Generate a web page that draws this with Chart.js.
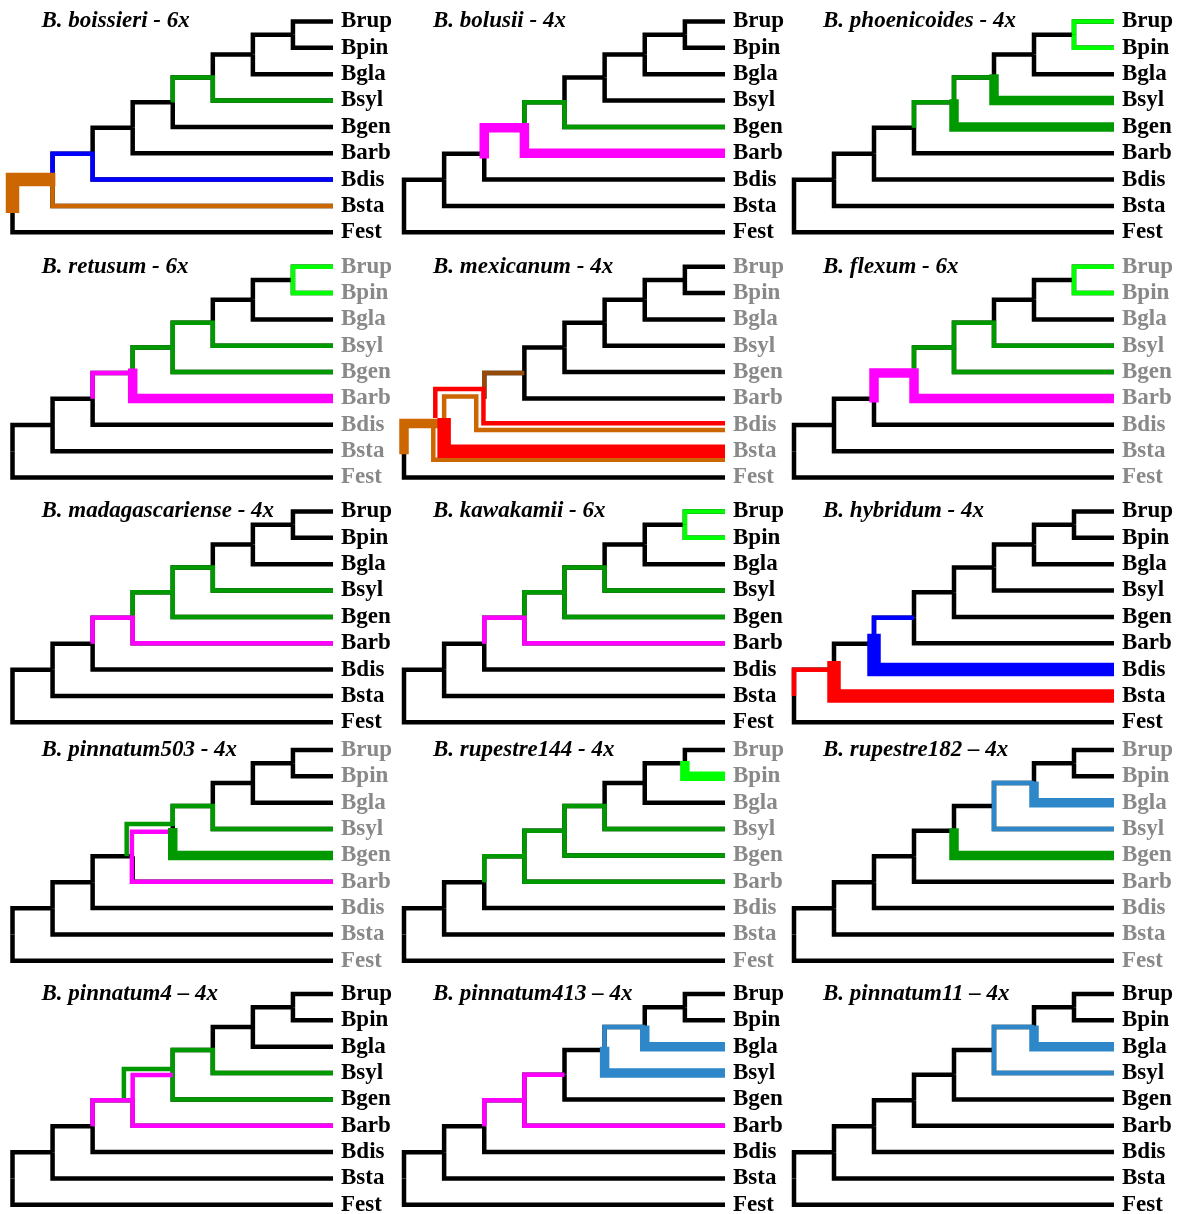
<!DOCTYPE html>
<html>
<head>
<meta charset="utf-8">
<script src="https://cdn.jsdelivr.net/npm/chart.js@4.4.1/dist/chart.umd.min.js"></script>
<style>
  html, body { margin: 0; padding: 0; background: #ffffff; }
  #sheet { position: relative; width: 1183px; height: 1214px; overflow: hidden; background: #ffffff; }
  #sheet canvas { position: absolute; }
</style>
</head>
<body>
<div id="sheet"></div>
<script>
// ---- reference topology: ladder tree of the diploid lineages ----
const tips = ['Brup', 'Bpin', 'Bgla', 'Bsyl', 'Bgen', 'Barb', 'Bdis', 'Bsta', 'Fest'];
const treeEdges = [
  ['n0', 'n1'], ['n0', 'Fest'],
  ['n1', 'n2'], ['n1', 'Bsta'],
  ['n2', 'n3'], ['n2', 'Bdis'],
  ['n3', 'n4'], ['n3', 'Barb'],
  ['n4', 'n5'], ['n4', 'Bgen'],
  ['n5', 'n6'], ['n5', 'Bsyl'],
  ['n6', 'n7'], ['n6', 'Bgla'],
  ['n7', 'Brup'], ['n7', 'Bpin']
];
const nodeDepth = { n0: 0, n1: 1, n2: 2, n3: 3, n4: 4, n5: 5, n6: 6, n7: 7 };
const tipDepth = 8;

// ---- panel titles and tip-label tone ----
const titles = [
  'B. boissieri - 6x', 'B. bolusii - 4x', 'B. phoenicoides - 4x',
  'B. retusum - 6x', 'B. mexicanum - 4x', 'B. flexum - 6x',
  'B. madagascariense - 4x', 'B. kawakamii - 6x', 'B. hybridum - 4x',
  'B. pinnatum503 - 4x', 'B. rupestre144 - 4x', 'B. rupestre182 \u2013 4x',
  'B. pinnatum4 \u2013 4x', 'B. pinnatum413 \u2013 4x', 'B. pinnatum11 \u2013 4x'
];
const labelTone = [
  'dark', 'dark', 'dark',
  'grey', 'grey', 'grey',
  'dark', 'dark', 'dark',
  'grey', 'grey', 'grey',
  'dark', 'dark', 'dark'
];

// ---- subgenome placements per species ----
// each entry: [lineage, copy rank, waypoints (node names or [depth, row])]
const boissieri = [
  ['core', 1, ['n4', 'n5', 'Bsyl']],
  ['dis', 1, ['n1', 'n2', 'Bdis']],
  ['staA', 1, ['n1', 'Bsta']],
  ['staA', 3, [[0, 7.27], [1.07, 6.0]]]
];
const bolusii = [
  ['core', 1, ['n3', 'n4', 'Bgen']],
  ['arb', 2, [[2, 5.2], 'n3', 'Barb']]
];
const phoenicoides = [
  ['rupPin', 1, ['n7', 'Brup']],
  ['rupPin', 1, ['n7', 'Bpin']],
  ['core', 1, ['n3', 'n4', 'n5']],
  ['core', 2, [[4, 2.95], 'Bgen']],
  ['core', 2, [[5, 2.0], 'Bsyl']]
];
const retusum = [
  ['rupPin', 1, ['n7', 'Brup']],
  ['rupPin', 1, ['n7', 'Bpin']],
  ['core', 1, ['n3', 'n4', 'n5', 'Bsyl']],
  ['core', 1, ['n4', 'Bgen']],
  ['arb', 1, ['n2', 'n3']],
  ['arb', 2, [[3, 3.86], 'Barb']]
];
const mexicanum = [
  ['anc', 1, ['n2', 'n3']],
  ['staA', 2, [[0, 7.12], [0.85, 5.95]]],
  ['staA', 1, [[0.73, 5.95], [8, 7.33]]],
  ['staB', 1, [[0.78, 5.74], [1.98, 4.64], [8, 5.94]]],
  ['staA', 1, [[1.0, 5.74], [1.8, 4.93], [8, 6.2]]],
  ['staB', 3, [[1, 5.74], 'Bsta']]
];
const mexicanumHidden = [['n0', 'n1'], ['n1', 'n2'], ['n2', 'Bdis'], ['n1', 'Bsta']];
const flexum = [
  ['rupPin', 1, ['n7', 'Brup']],
  ['rupPin', 1, ['n7', 'Bpin']],
  ['core', 1, ['n3', 'n4', 'n5', 'Bsyl']],
  ['core', 1, ['n4', 'Bgen']],
  ['arb', 2, [[2, 5.15], 'n3', 'Barb']]
];
const madagascariense = [
  ['core', 1, ['n3', 'n4', 'n5', 'Bsyl']],
  ['core', 1, ['n4', 'Bgen']],
  ['arb', 1, ['n2', 'n3', 'Barb']]
];
const kawakamii = [
  ['rupPin', 1, ['n7', 'Brup']],
  ['rupPin', 1, ['n7', 'Bpin']],
  ['core', 1, ['n3', 'n4', 'n5', 'Bsyl']],
  ['core', 1, ['n4', 'Bgen']],
  ['arb', 1, ['n2', 'n3', 'Barb']]
];
const hybridum = [
  ['staB', 1, ['n0', 'n1']],
  ['dis', 1, ['n2', 'n3']],
  ['dis', 3, [[2, 4.64], 'Bdis']],
  ['staB', 3, [[1, 5.67], 'Bsta']]
];
const pinnatum503 = [
  ['core', 1, [[2.85, 4.03], [4, 2.81], 'n5', 'Bsyl']],
  ['arb', 1, [[3.9, 3.1], [2.98, 3.1], 'Barb']],
  ['core', 2, [[4, 2.96], 'Bgen']]
];
const pinnatum503Hidden = [['n3', 'n4']];
const rupestre144 = [
  ['core', 1, ['n2', 'n3', 'n4', 'n5', 'Bsyl']],
  ['core', 1, ['n3', 'Barb']],
  ['core', 1, ['n4', 'Bgen']],
  ['rupPin', 2, [[7, 0.42], 'Bpin']]
];
const rupestre182 = [
  ['gla', 1, ['n5', 'n6']],
  ['gla', 1, ['n5', 'Bsyl']],
  ['gla', 2, [[6, 1.2], 'Bgla']],
  ['core', 2, [[4, 2.97], 'Bgen']]
];
const pinnatum4 = [
  ['core', 1, [[2.78, 4.0], [4, 2.85], 'n5', 'Bsyl']],
  ['core', 1, [[4, 2.85], 'Bgen']],
  ['arb', 1, ['n2', 'n3', 'Barb']],
  ['arb', 1, [[3, 4.03], [4, 3.07]]]
];
const pinnatum4Hidden = [['n3', 'n4']];
const pinnatum413 = [
  ['arb', 1, ['n2', 'n3', 'n4']],
  ['arb', 1, ['n3', 'Barb']],
  ['gla', 1, ['n5', 'n6']],
  ['gla', 2, [[6, 1.2], 'Bgla']],
  ['gla', 2, [[5, 2.0], 'Bsyl']]
];
const pinnatum11 = [
  ['gla', 1, ['n5', 'n6']],
  ['gla', 1, ['n5', 'Bsyl']],
  ['gla', 2, [[6, 1.2], 'Bgla']]
];

const placements = [
  boissieri, bolusii, phoenicoides,
  retusum, mexicanum, flexum,
  madagascariense, kawakamii, hybridum,
  pinnatum503, rupestre144, rupestre182,
  pinnatum4, pinnatum413, pinnatum11
];
const hiddenEdges = [
  [], [], [],
  [], mexicanumHidden, [],
  [], [], [],
  pinnatum503Hidden, [], [],
  pinnatum4Hidden, [], []
];

// ---- styling ----
const lineageColour = {
  tree: '#000000', rupPin: '#00ff00', core: '#009900', arb: '#ff00ff',
  dis: '#0000ff', staA: '#cc6600', staB: '#ff0000', anc: '#964b0a', gla: '#2d87c8'
};
const rankWidth = { 1: 4.5, 2: 9.5, 3: 13.5 };
const toneColour = { dark: '#000000', grey: '#898989' };
const SERIF = '"Liberation Serif", "Times New Roman", serif';

// ---- sheet layout (pixel frame of each panel) ----
const rowTop = [21.5, 266.7, 511.5, 750, 994];
const rowSpan = 210.8;
const colRoot = [12.5, 404, 794];
const colTip = [333, 725, 1114];
const AXIS_W = 70;

// ---- node coordinates (depth, row) ----
const pos = {};
tips.forEach((t, i) => { pos[t] = { x: tipDepth, y: i }; });
function place(n) {
  if (pos[n]) return pos[n];
  const kids = treeEdges.filter(e => e[0] === n).map(e => place(e[1]));
  pos[n] = { x: nodeDepth[n], y: (kids[0].y + kids[1].y) / 2 };
  return pos[n];
}
place('n0');

// rectangular cladogram path: vertical at the parent, then across to the child
function expand(path) {
  const pts = [];
  let prev = null;
  path.forEach(w => {
    const c = typeof w === 'string' ? pos[w] : { x: w[0], y: w[1] };
    if (prev) pts.push({ x: prev.x, y: c.y });
    pts.push({ x: c.x, y: c.y });
    prev = c;
  });
  return pts;
}

function lineSet(points, colour, width) {
  return {
    data: points,
    showLine: true,
    borderColor: colour,
    backgroundColor: colour,
    borderWidth: width,
    borderJoinStyle: 'miter',
    borderCapStyle: 'butt',
    pointRadius: 0,
    pointHoverRadius: 0,
    fill: false,
    tension: 0,
    clip: false
  };
}

const panelTitle = {
  id: 'panelTitle',
  afterDraw(chart, args, opts) {
    const { ctx, chartArea } = chart;
    const y = chart.scales.y.getPixelForValue(0);
    ctx.save();
    ctx.font = 'italic bold 23px ' + SERIF;
    ctx.fillStyle = '#000000';
    ctx.textAlign = 'left';
    ctx.textBaseline = 'middle';
    ctx.fillText(opts.text, chartArea.left + 29, y);
    ctx.restore();
  }
};

const sheet = document.getElementById('sheet');

titles.forEach((title, idx) => {
  const r = Math.floor(idx / 3), c = idx % 3;
  const padL = 16, padT = 30, padB = 30;
  const left = Math.floor(colRoot[c] - padL);
  const top = Math.floor(rowTop[r] - padT);
  const leftPad = colRoot[c] - left;
  const topPad = rowTop[r] - top;
  const width = Math.ceil(colTip[c] - left + AXIS_W);
  const height = Math.ceil(topPad + rowSpan + padB);
  const rightPad = width - AXIS_W - (colTip[c] - left);
  const bottomPad = height - topPad - rowSpan;

  const cv = document.createElement('canvas');
  cv.width = width;
  cv.height = height;
  cv.style.left = left + 'px';
  cv.style.top = top + 'px';
  sheet.appendChild(cv);

  const hidden = hiddenEdges[idx].map(e => e.join('>'));
  const drawList = [];
  treeEdges.forEach(e => {
    if (hidden.includes(e.join('>'))) return;
    drawList.push(lineSet(expand(e), lineageColour.tree, 4.5));
  });
  placements[idx].forEach(([lineage, rank, path]) => {
    drawList.push(lineSet(expand(path), lineageColour[lineage], rankWidth[rank]));
  });
  // later entries are painted on top
  drawList.forEach((d, i) => { d.order = drawList.length - i; });

  const tone = toneColour[labelTone[idx]];

  new Chart(cv, {
    type: 'scatter',
    data: { datasets: drawList },
    options: {
      responsive: false,
      animation: false,
      events: [],
      devicePixelRatio: 1,
      layout: { padding: { left: leftPad, top: topPad, bottom: bottomPad, right: rightPad } },
      plugins: {
        legend: { display: false },
        tooltip: { enabled: false },
        title: { display: false },
        panelTitle: { text: title }
      },
      scales: {
        x: { type: 'linear', min: 0, max: tipDepth, display: false },
        y: {
          type: 'linear', min: 0, max: tips.length - 1, reverse: true, position: 'right',
          afterFit: s => { s.width = AXIS_W; },
          grid: { display: false, drawTicks: false },
          border: { display: false },
          ticks: {
            stepSize: 1,
            autoSkip: false,
            padding: 8,
            color: tone,
            font: { family: SERIF, size: 23, weight: 'bold', lineHeight: 1 },
            callback: v => tips[v]
          }
        }
      }
    },
    plugins: [panelTitle]
  });
});
</script>
</body>
</html>
